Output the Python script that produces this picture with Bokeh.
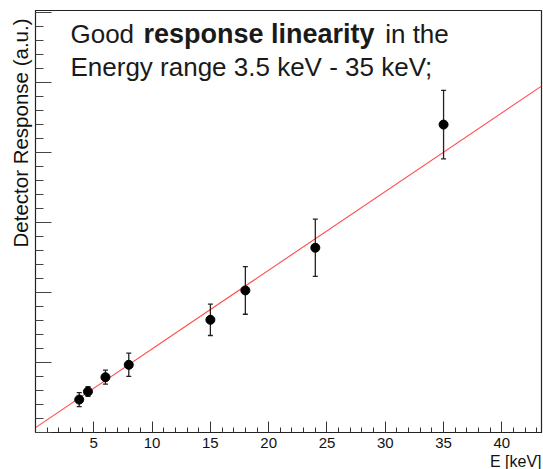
from bokeh.plotting import figure
from bokeh.models import ColumnDataSource, FixedTicker, Label, Range1d, Title
from bokeh.embed import file_html
from bokeh.resources import INLINE

# data
energy = [3.75, 4.5, 6.0, 8.0, 15.0, 18.0, 24.0, 35.0]
response = [0.47, 0.585, 0.79, 0.967, 1.61, 2.03, 2.64, 4.40]
response_err = [0.10, 0.07, 0.10, 0.166, 0.224, 0.34, 0.41, 0.49]
fit_x = [0.0, 43.4]
fit_y = [0.07, 4.95]
x_ticks = [5, 10, 15, 20, 25, 30, 35, 40]
y_ticks = [0, 1, 2, 3, 4, 5, 6]
title_regular_1 = "Good"
title_bold = "response linearity"
title_regular_2 = "in the"
title_line2 = "Energy range 3.5 keV - 35 keV;"
y_title = "Detector Response (a.u.)"
x_title = "E [keV]"

FONT = "Liberation Sans"

p = figure(width=543, height=469, output_backend="svg", toolbar_location=None,
           x_range=Range1d(0, 43.4), y_range=Range1d(0, 6.03),
           min_border_left=35, min_border_right=2, min_border_top=10, min_border_bottom=37)
p.background_fill_color = "white"
p.border_fill_color = "white"
p.grid.visible = False
p.outline_line_color = "#222222"
p.outline_line_width = 1.2

# helpers: reference pixel -> data
def dx(px):
    return (px - 35) / 11.67

def dy(py):
    return (432 - py) / 70.0

# in-frame text
TC = "#1a1a1a"
p.add_layout(Label(x=dx(70), y=dy(33), text=title_regular_1, text_font=FONT,
                   text_font_size="26px", text_color=TC, text_baseline="middle"))
p.add_layout(Label(x=dx(143), y=dy(33), text=title_bold, text_font=FONT, text_font_style="bold",
                   text_font_size="27px", text_color=TC, text_baseline="middle"))
p.add_layout(Label(x=dx(385), y=dy(33), text=title_regular_2, text_font=FONT,
                   text_font_size="26px", text_color=TC, text_baseline="middle"))
p.add_layout(Label(x=dx(70), y=dy(66), text=title_line2, text_font=FONT,
                   text_font_size="26px", text_color=TC, text_baseline="middle"))

# axis titles as side titles (outside the frame)
p.add_layout(Title(text=y_title, align="right", text_font=FONT, text_font_size="20.5px",
                   text_font_style="normal", text_color="#111111",
                   standoff=7, offset=8, text_line_height=1.0), "left")
p.add_layout(Title(text=x_title, align="right", text_font=FONT, text_font_size="16px",
                   text_font_style="normal", text_color="#111111",
                   standoff=0, text_line_height=1.0), "below")

# x axis
xa = p.xaxis[0]
xa.ticker = FixedTicker(ticks=x_ticks, minor_ticks=list(range(0, 44)))
xa.major_tick_in = 11
xa.major_tick_out = 0
xa.minor_tick_in = 5
xa.minor_tick_out = 0
xa.axis_line_color = "#222222"
xa.major_tick_line_color = "#333333"
xa.minor_tick_line_color = "#333333"
xa.major_label_text_font = FONT
xa.major_label_text_font_size = "15px"
xa.major_label_text_color = "#111111"
xa.major_label_standoff = 5

# y axis: ticks only, no labels
ya = p.yaxis[0]
ya.ticker = FixedTicker(ticks=y_ticks,
                        minor_ticks=[round(0.2 * i, 2) for i in range(0, 31)])
ya.major_label_overrides = {t: "" for t in y_ticks}
ya.major_tick_in = 16
ya.major_tick_out = 0
ya.minor_tick_in = 8
ya.minor_tick_out = 0
ya.axis_line_color = "#222222"
ya.major_tick_line_color = "#444444"
ya.minor_tick_line_color = "#444444"
ya.major_label_standoff = 0

# fit line
p.line(fit_x, fit_y, line_color="#ff4a4a", line_width=1.1)

# error bars as glyphs
upper = [v + e for v, e in zip(response, response_err)]
lower = [v - e for v, e in zip(response, response_err)]
src = ColumnDataSource(dict(x=energy, y=response, upper=upper, lower=lower))
p.segment(x0="x", y0="lower", x1="x", y1="upper", source=src,
          line_color="#222222", line_width=1.3)
p.scatter(x="x", y="upper", source=src, marker="dash", size=5,
          line_color="#222222", line_width=1.3)
p.scatter(x="x", y="lower", source=src, marker="dash", size=5,
          line_color="#222222", line_width=1.3)
p.scatter("x", "y", source=src, size=9, color="black")

open("out.html", "w").write(file_html(p, INLINE))
